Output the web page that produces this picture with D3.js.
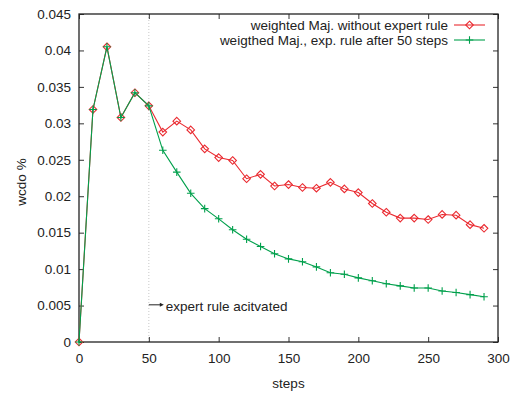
<!DOCTYPE html>
<html>
<head>
<meta charset="utf-8">
<script src="https://cdn.jsdelivr.net/npm/d3@7"></script>
<style>
  html, body { margin: 0; padding: 0; background: #fff; }
  svg { display: block; }
  text { font-family: "Liberation Sans", Arial, sans-serif; fill: #222; }
</style>
</head>
<body>
<svg id="chart" width="515" height="396"></svg>
<script>
const steps = [0,10,20,30,40,50,60,70,80,90,100,110,120,130,140,150,160,170,180,190,200,210,220,230,240,250,260,270,280,290];
const withoutExpert = [0,0.0319,0.0405,0.0308,0.0342,0.0324,0.0288,0.0303,0.0291,0.0265,0.0253,0.0249,0.0224,0.0230,0.0214,0.0216,0.0212,0.0211,0.0219,0.0210,0.0205,0.0190,0.0178,0.0170,0.0170,0.0168,0.0175,0.0174,0.0161,0.0156];
const withExpert = [0,0.0319,0.0405,0.0308,0.0342,0.0324,0.0263,0.0233,0.0204,0.0183,0.0169,0.0154,0.0141,0.0131,0.0121,0.0114,0.0110,0.0103,0.0095,0.0093,0.0088,0.0084,0.0080,0.0077,0.0074,0.0074,0.0070,0.0068,0.0065,0.0062];
const xTicks = [0,50,100,150,200,250,300];
const yTicks = [0,0.005,0.01,0.015,0.02,0.025,0.03,0.035,0.04,0.045];
const seriesNames = ["weighted Maj. without expert rule", "weigthed Maj., exp. rule after 50 steps"];
const activationStep = 50;
const annotationText = "expert rule acitvated";
const annotationY = 0.0051;

const svg = d3.select("#chart");
const pL = 79, pR = 498, pT = 14, pB = 342;
const x = d3.scaleLinear().domain([0, 300]).range([pL, pR]);
const y = d3.scaleLinear().domain([0, 0.045]).range([pB, pT]);
const red = "#ea2a30", green = "#00a04c";

// vertical dotted line at activation
svg.append("line")
  .attr("x1", x(activationStep)).attr("x2", x(activationStep))
  .attr("y1", pT).attr("y2", pB)
  .attr("stroke", "#c8c8c8").attr("stroke-width", 1)
  .attr("stroke-dasharray", "1,2");

// axes (ticks inward)
const fmtY = d => d === 0 ? "0" : String(+d.toFixed(3));
const gB = svg.append("g").attr("transform", `translate(0,${pB})`)
  .call(d3.axisBottom(x).tickValues(xTicks).tickSize(-5).tickPadding(11).tickFormat(d3.format("d")));
const gT = svg.append("g").attr("transform", `translate(0,${pT})`)
  .call(d3.axisTop(x).tickValues(xTicks).tickSize(-5).tickFormat(""));
const gL = svg.append("g").attr("transform", `translate(${pL},0)`)
  .call(d3.axisLeft(y).tickValues(yTicks).tickSize(-5).tickPadding(8).tickFormat(fmtY));
const gR = svg.append("g").attr("transform", `translate(${pR},0)`)
  .call(d3.axisRight(y).tickValues(yTicks).tickSize(-5).tickFormat(""));
[gB, gT, gL, gR].forEach(g => {
  g.select(".domain").remove();
  g.selectAll(".tick line").attr("stroke", "#333").attr("stroke-width", 1);
  g.selectAll(".tick text").attr("font-size", 13.5).attr("fill", "#222")
    .attr("font-family", "Liberation Sans, Arial, sans-serif");
});

// frame
svg.append("rect").attr("x", pL).attr("y", pT)
  .attr("width", pR - pL).attr("height", pB - pT)
  .attr("fill", "none").attr("stroke", "#222").attr("stroke-width", 1.3);

// axis labels
svg.append("text").attr("x", x(150)).attr("y", 388).attr("text-anchor", "middle")
  .attr("font-size", 13.5).text("steps");
svg.append("text").attr("transform", `translate(26,${(pT + pB) / 2 + 4}) rotate(-90)`)
  .attr("text-anchor", "middle").attr("font-size", 13.5).text("wcdo %");

// annotation arrow
svg.append("line").attr("x1", x(activationStep)).attr("x2", x(activationStep) + 12)
  .attr("y1", y(annotationY)).attr("y2", y(annotationY))
  .attr("stroke", "#222").attr("stroke-width", 1);
svg.append("path")
  .attr("d", `M${x(activationStep) + 15},${y(annotationY)} l-4,-2 l0,4 z`).attr("fill", "#222");
svg.append("text").attr("x", x(activationStep) + 17).attr("y", y(annotationY) + 6)
  .attr("font-size", 13.5).text(annotationText);

// series
const line = d3.line().x((d, i) => x(steps[i])).y(d => y(d));
const diamond = (cx, cy, r) => `M${cx},${cy - r}L${cx + r},${cy}L${cx},${cy + r}L${cx - r},${cy}Z`;
const plus = (cx, cy, r) => `M${cx - r},${cy}H${cx + r}M${cx},${cy - r}V${cy + r}`;

svg.append("path").datum(withoutExpert).attr("d", line)
  .attr("fill", "none").attr("stroke", red).attr("stroke-width", 1.1);
svg.append("g").selectAll("path").data(withoutExpert).join("path")
  .attr("d", (d, i) => diamond(x(steps[i]), y(d), 3.8))
  .attr("fill", "none").attr("stroke", red).attr("stroke-width", 1.1);

svg.append("path").datum(withExpert).attr("d", line)
  .attr("fill", "none").attr("stroke", green).attr("stroke-width", 1.1);
svg.append("g").selectAll("path").data(withExpert).join("path")
  .attr("d", (d, i) => plus(x(steps[i]), y(d), 3.8))
  .attr("fill", "none").attr("stroke", green).attr("stroke-width", 1.1);

// legend
const legY = [25, 40];
const legColors = [red, green];
seriesNames.forEach((name, i) => {
  svg.append("text").attr("x", 448).attr("y", legY[i] + 5).attr("text-anchor", "end")
    .attr("font-size", 13.5).text(name);
  svg.append("line").attr("x1", 454).attr("x2", 485).attr("y1", legY[i]).attr("y2", legY[i])
    .attr("stroke", legColors[i]).attr("stroke-width", 1.1);
  svg.append("path")
    .attr("d", i === 0 ? diamond(469.5, legY[i], 3.8) : plus(469.5, legY[i], 3.8))
    .attr("fill", "none").attr("stroke", legColors[i]).attr("stroke-width", 1.1);
});
</script>
</body>
</html>
